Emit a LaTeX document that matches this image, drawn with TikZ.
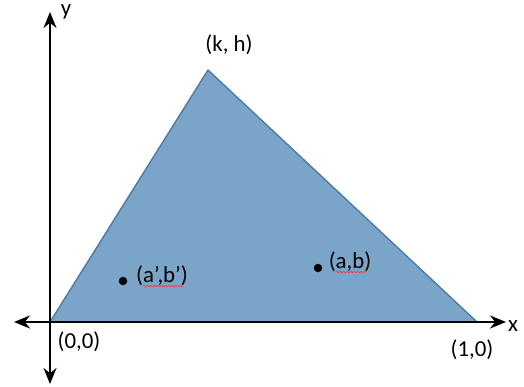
\documentclass[tikz,border=0pt]{standalone}
\usepackage{fontspec}
\setmainfont{Carlito}
\usepackage{tikz}
\usetikzlibrary{calc,arrows.meta,positioning,decorations.pathmorphing}
\definecolor{trifill}{HTML}{7BA4C9}
\definecolor{triedge}{HTML}{4E7AA6}
\tikzset{
  ax/.style={{Stealth[length=3.2mm,width=2.6mm]}-{Stealth[length=3.2mm,width=2.6mm]},line width=1.3pt,black},
  tri/.style={fill=trifill,draw=triedge,line width=0.8pt,line join=round},
  pt/.style={circle,fill=black,minimum size=0.17cm,inner sep=0pt},
  lbl/.style={inner sep=1pt,font=\fontsize{13}{15}\selectfont},
  squig/.style={red!80,line width=0.4pt,decorate,decoration={snake,amplitude=0.35pt,segment length=2pt}}
}

\begin{document}
\begin{tikzpicture}[x=0.02cm,y=-0.02cm]
\useasboundingbox (0,0) rectangle (524,386);
% triangle
\coordinate (o) at (50,322);
\coordinate (top) at (208,70);
\coordinate (r) at (477,322);
\fill[tri] (o) -- (top) -- (r) -- cycle;
% axes
\coordinate (xl) at (14,322);
\coordinate (xr) at (506,322);
\coordinate (yt) at (50,12);
\coordinate (yb) at (50,384);
\draw[ax] (xl) -- (xr);
\draw[ax] (yb) -- (yt);
\node[lbl] (ylab) at (66,12) {y};
\node[lbl] (xlab) at (513,326) {x};
% vertices
\node[lbl] (kh) at (229,45) {(k, h)};
\node[lbl] (oo) at (79,342) {(0,0)};
\node[lbl] (one) at (472,350) {(1,0)};
% points
\node[pt] (p1) at (123,281) {};
\node[lbl] (ab1) at (162,276) {(a',b')};
\node[pt] (p2) at (318,268) {};
\node[lbl] (ab2) at (350,262) {(a,b)};
\draw[squig] ($(ab1.south west)+(9,-2)$) -- ($(ab1.south east)+(-7,-2)$);
\draw[squig] ($(ab2.south west)+(9,-2)$) -- ($(ab2.south east)+(-7,-2)$);
\end{tikzpicture}
\end{document}
